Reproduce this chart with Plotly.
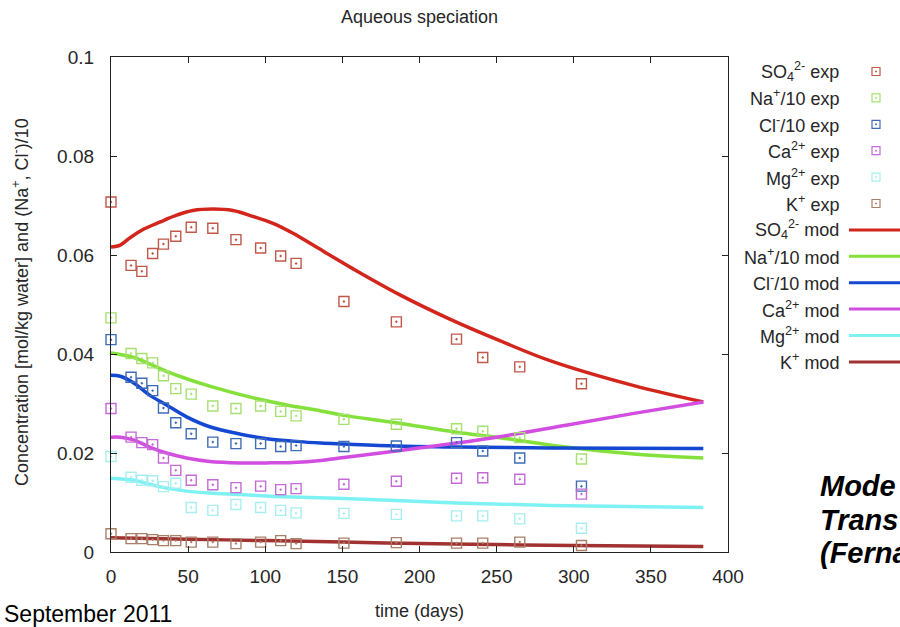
import plotly.graph_objects as go

# ---- measured concentrations (mol/kg water; Na and Cl divided by 10) ----
days = [0, 13, 20, 27, 34, 42, 52, 66, 81, 97, 110, 120, 151, 185, 224, 241, 265, 305]
so4_exp = [0.0707, 0.0579, 0.0567, 0.0603, 0.0622, 0.0638, 0.0656, 0.0654, 0.0631, 0.0614,
           0.0598, 0.0583, 0.0506, 0.0465, 0.0430, 0.0393, 0.0374, 0.0340]
na_exp = [0.0473, 0.0401, 0.0391, 0.0382, 0.0356, 0.0330, 0.0319, 0.0295, 0.0290, 0.0295,
          0.0284, 0.0275, 0.0268, 0.0258, 0.0249, 0.0244, 0.0231, 0.0188]
cl_exp = [0.0429, 0.0353, 0.0341, 0.0326, 0.0291, 0.0261, 0.0239, 0.0222, 0.0219, 0.0219,
          0.0213, 0.0215, 0.0213, 0.0214, 0.0221, 0.0204, 0.0190, 0.0133]
ca_exp = [0.0290, 0.0232, 0.0221, 0.0217, 0.0190, 0.0165, 0.0145, 0.0136, 0.0130, 0.0133,
          0.0126, 0.0128, 0.0137, 0.0143, 0.0149, 0.0150, 0.0147, 0.0117]
mg_exp = [0.0193, 0.0151, 0.0145, 0.0144, 0.0132, 0.0139, 0.0090, 0.0084, 0.0096, 0.0090,
          0.0084, 0.0079, 0.0078, 0.0076, 0.0073, 0.0073, 0.0067, 0.0048]
k_exp = [0.0037, 0.0027, 0.0027, 0.0025, 0.0023, 0.0023, 0.0020, 0.0020, 0.0017, 0.0020,
         0.0023, 0.0017, 0.0018, 0.0019, 0.0018, 0.0018, 0.0020, 0.0013]

# ---- model results ----
so4_mod_t = [0, 6, 12, 21, 32, 43, 53, 66, 79, 92, 105, 118, 131, 157, 187, 220, 252, 285, 339, 384]
so4_mod = [0.0616, 0.0620, 0.0634, 0.0652, 0.0667, 0.0681, 0.0690, 0.0693, 0.0690, 0.0678,
           0.0664, 0.0644, 0.0620, 0.0572, 0.0520, 0.0470, 0.0427, 0.0386, 0.0336, 0.0303]
na_mod_t = [0, 6, 15, 25, 36, 49, 64, 79, 97, 114, 136, 151, 185, 224, 252, 295, 339, 384]
na_mod = [0.0402, 0.0399, 0.0393, 0.0380, 0.0365, 0.0350, 0.0335, 0.0322, 0.0308, 0.0297,
          0.0285, 0.0276, 0.0261, 0.0242, 0.0231, 0.0212, 0.0198, 0.0190]
cl_mod_t = [0, 6, 15, 25, 36, 49, 64, 84, 101, 118, 136, 151, 185, 224, 285, 384]
cl_mod = [0.0357, 0.0355, 0.0341, 0.0317, 0.0297, 0.0273, 0.0253, 0.0238, 0.0229, 0.0224,
          0.0220, 0.0218, 0.0214, 0.0212, 0.0210, 0.0209]
ca_mod_t = [0, 6, 15, 25, 36, 49, 64, 84, 101, 118, 136, 151, 185, 207, 224, 252, 295, 339, 384]
ca_mod = [0.0232, 0.0232, 0.0226, 0.0212, 0.0200, 0.0190, 0.0183, 0.0180, 0.0180, 0.0181,
          0.0185, 0.0191, 0.0204, 0.0213, 0.0220, 0.0233, 0.0256, 0.0280, 0.0303]
mg_mod_t = [0, 15, 25, 36, 49, 64, 84, 101, 118, 151, 185, 224, 285, 384]
mg_mod = [0.0149, 0.0145, 0.0137, 0.0129, 0.0123, 0.0119, 0.0116, 0.0113, 0.0111, 0.0108,
          0.0104, 0.0099, 0.0094, 0.0090]
k_mod_t = [0, 50, 100, 150, 200, 250, 300, 384]
k_mod = [0.0029, 0.0026, 0.0023, 0.0020, 0.0017, 0.0015, 0.0013, 0.0011]

y_ticks = [0, 0.02, 0.04, 0.06, 0.08, 0.1]
y_tick_text = ["0", "0.02", "0.04", "0.06", "0.08", "0.1"]
x_ticks = [0, 50, 100, 150, 200, 250, 300, 350, 400]

FONT = "Liberation Sans, Arial, sans-serif"
TXT = "#262626"

exp_series = [
    ("SO<sub>4</sub><sup>2-</sup> exp", so4_exp, "#c0584a"),
    ("Na<sup>+</sup>/10 exp", na_exp, "#a6e070"),
    ("Cl<sup>-</sup>/10 exp", cl_exp, "#3e6cb4"),
    ("Ca<sup>2+</sup> exp", ca_exp, "#c46ad6"),
    ("Mg<sup>2+</sup> exp", mg_exp, "#a8eef0"),
    ("K<sup>+</sup> exp", k_exp, "#a88068"),
]
mod_series = [
    ("SO<sub>4</sub><sup>2-</sup> mod", so4_mod_t, so4_mod, "#d2261c"),
    ("Na<sup>+</sup>/10 mod", na_mod_t, na_mod, "#84e03a"),
    ("Cl<sup>-</sup>/10 mod", cl_mod_t, cl_mod, "#1448d2"),
    ("Ca<sup>2+</sup> mod", ca_mod_t, ca_mod, "#d24ee0"),
    ("Mg<sup>2+</sup> mod", mg_mod_t, mg_mod, "#7ef2f2"),
    ("K<sup>+</sup> mod", k_mod_t, k_mod, "#a23232"),
]

fig = go.Figure()

for name, t, v, col in mod_series:
    fig.add_trace(go.Scatter(x=t, y=v, mode="lines", name=name,
                             line=dict(color=col, width=3.5, shape="spline", smoothing=1.0),
                             showlegend=False))

for name, v, col in exp_series:
    fig.add_trace(go.Scatter(x=days, y=v, mode="markers", name=name, cliponaxis=False,
                             marker=dict(symbol="square-open-dot", size=10, color=col,
                                         line=dict(color=col, width=1.4)),
                             showlegend=False))

# plot area in pixels
L, R, T, B = 111, 728, 57, 552
W, H = 900, 627


def px(x):
    return (x - L) / (R - L)


def py(y):
    return (B - y) / (B - T)


annotations = []
shapes = []

# key drawn on the right: label right-aligned, sample to the right of it
row0, step = 71.5, 26.4
for i, (name, v, col) in enumerate(exp_series):
    yy = row0 + i * step
    annotations.append(dict(xref="paper", yref="paper", x=px(841), y=py(yy), xanchor="right",
                            yanchor="middle", text=name, showarrow=False,
                            font=dict(family=FONT, size=18, color=TXT)))
    shapes.append(dict(type="rect", xref="paper", yref="paper", x0=px(872), x1=px(880),
                       y0=py(yy + 4), y1=py(yy - 4), line=dict(color=col, width=1.2)))
    shapes.append(dict(type="rect", xref="paper", yref="paper", x0=px(875.5), x1=px(876.5),
                       y0=py(yy + 0.5), y1=py(yy - 0.5), line=dict(color=col, width=0.8),
                       fillcolor=col))
for j, (name, t, v, col) in enumerate(mod_series):
    yy = row0 + (j + 6) * step
    annotations.append(dict(xref="paper", yref="paper", x=px(841), y=py(yy), xanchor="right",
                            yanchor="middle", text=name, showarrow=False,
                            font=dict(family=FONT, size=18, color=TXT)))
    shapes.append(dict(type="line", xref="paper", yref="paper", x0=px(849), x1=px(905),
                       y0=py(yy), y1=py(yy), line=dict(color=col, width=3)))

# side caption at the right edge
for k, line in enumerate(["Mode", "Trans", "(Ferna"]):
    annotations.append(dict(xref="paper", yref="paper", x=px(818), y=py(486 + k * 33.5),
                            xanchor="left", yanchor="middle", text="<b><i>" + line + "</i></b>",
                            showarrow=False, font=dict(family=FONT, size=29, color="#000")))

annotations.append(dict(xref="paper", yref="paper", x=px(2), y=py(614), xanchor="left",
                        yanchor="middle", text="September 2011", showarrow=False,
                        font=dict(family=FONT, size=23, color="#000")))

annotations.append(dict(xref="paper", yref="paper", x=0.5, y=py(611), xanchor="center",
                        yanchor="middle", text="time (days)", showarrow=False,
                        font=dict(family=FONT, size=18, color=TXT)))
annotations.append(dict(xref="paper", yref="paper", x=px(20), y=py(302), xanchor="center",
                        yanchor="middle", textangle=-90, showarrow=False,
                        text="Concentration [mol/kg water] and (Na<sup>+</sup>, Cl<sup>-</sup>)/10",
                        font=dict(family=FONT, size=18, color=TXT)))

fig.update_layout(
    width=W, height=H,
    margin=dict(l=L, r=W - R, t=T, b=H - B, pad=0),
    paper_bgcolor="white", plot_bgcolor="white",
    title=dict(text="Aqueous speciation", x=0.5 * (L + R) / W, xanchor="center",
               y=1 - 17 / H, yanchor="middle", font=dict(family=FONT, size=18, color=TXT)),
    font=dict(family=FONT, size=18, color=TXT),
    showlegend=False,
    annotations=annotations,
    shapes=shapes,
)

fig.update_xaxes(range=[0, 400], tickvals=x_ticks, ticks="inside", ticklen=6, tickcolor="#222",
                 showline=True, linecolor="#222", linewidth=1.2, mirror="ticks",
                 showgrid=False, zeroline=False, ticklabelstandoff=7,
                 tickfont=dict(family=FONT, size=19, color=TXT))
fig.update_yaxes(range=[0, 0.1], tickvals=y_ticks, ticktext=y_tick_text, ticks="inside",
                 ticklen=6, tickcolor="#222", showline=True, linecolor="#222", linewidth=1.2,
                 mirror="ticks", showgrid=False, zeroline=False, ticklabelstandoff=12,
                 tickfont=dict(family=FONT, size=19, color=TXT))

fig.write_html("out.html")
